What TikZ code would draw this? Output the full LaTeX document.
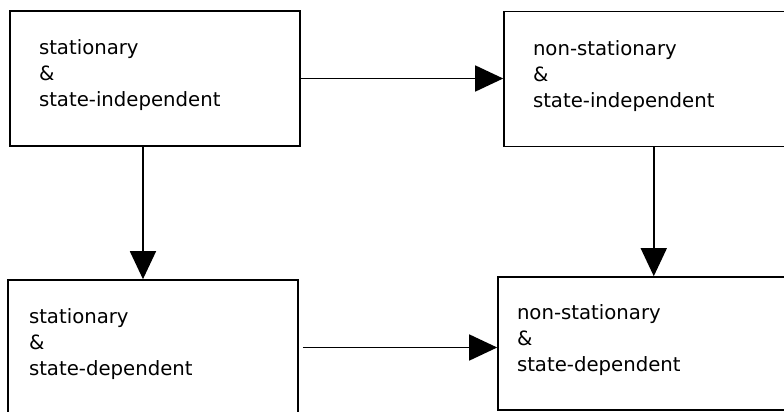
\documentclass[tikz,border=0pt]{standalone}
\usepackage{fontspec}
\setmainfont{DejaVu Sans}
\usepackage{tikz}
\usetikzlibrary{arrows.meta,positioning}

\begin{document}
\begin{tikzpicture}[x=1pt,y=-1pt]
\tikzset{font={\fontsize{19.7}{26}\selectfont}}
\tikzset{box/.style={draw,line width=1.6pt,inner xsep=#1,text width={290pt-2*#1},minimum height=135pt,align=left,execute at end node={\par\vspace*{6pt}}}}
\tikzset{link/.style={line width=1.5pt,-{Triangle[length=28pt,width=26pt]}}}
\clip (0,0) rectangle (784,412);

%Boxes
\node[box=29pt](si) at (155,78.5) {stationary\\ \&\\ state-independent};
\node[box=29pt](nsi) at (649,79) {non-stationary\\ \&\\ state-independent};
\node[box=21pt](sd) at (153,347.5) {stationary\\ \&\\ state-dependent};
\node[box=19pt,minimum height=133pt](nsd) at (643,343.5) {non-stationary\\ \&\\ state-dependent};

% Arrows
\draw[link] (si.east) -- (si.east -| nsi.west);
\draw[link] (si.260) -- (si.260 |- sd.north);
\draw[link] (nsi.-86) -- (nsi.-86 |- nsd.north);
\draw[link,shorten <=4pt] (sd.east) -- (sd.east -| nsd.west);

\end{tikzpicture}
\end{document}
